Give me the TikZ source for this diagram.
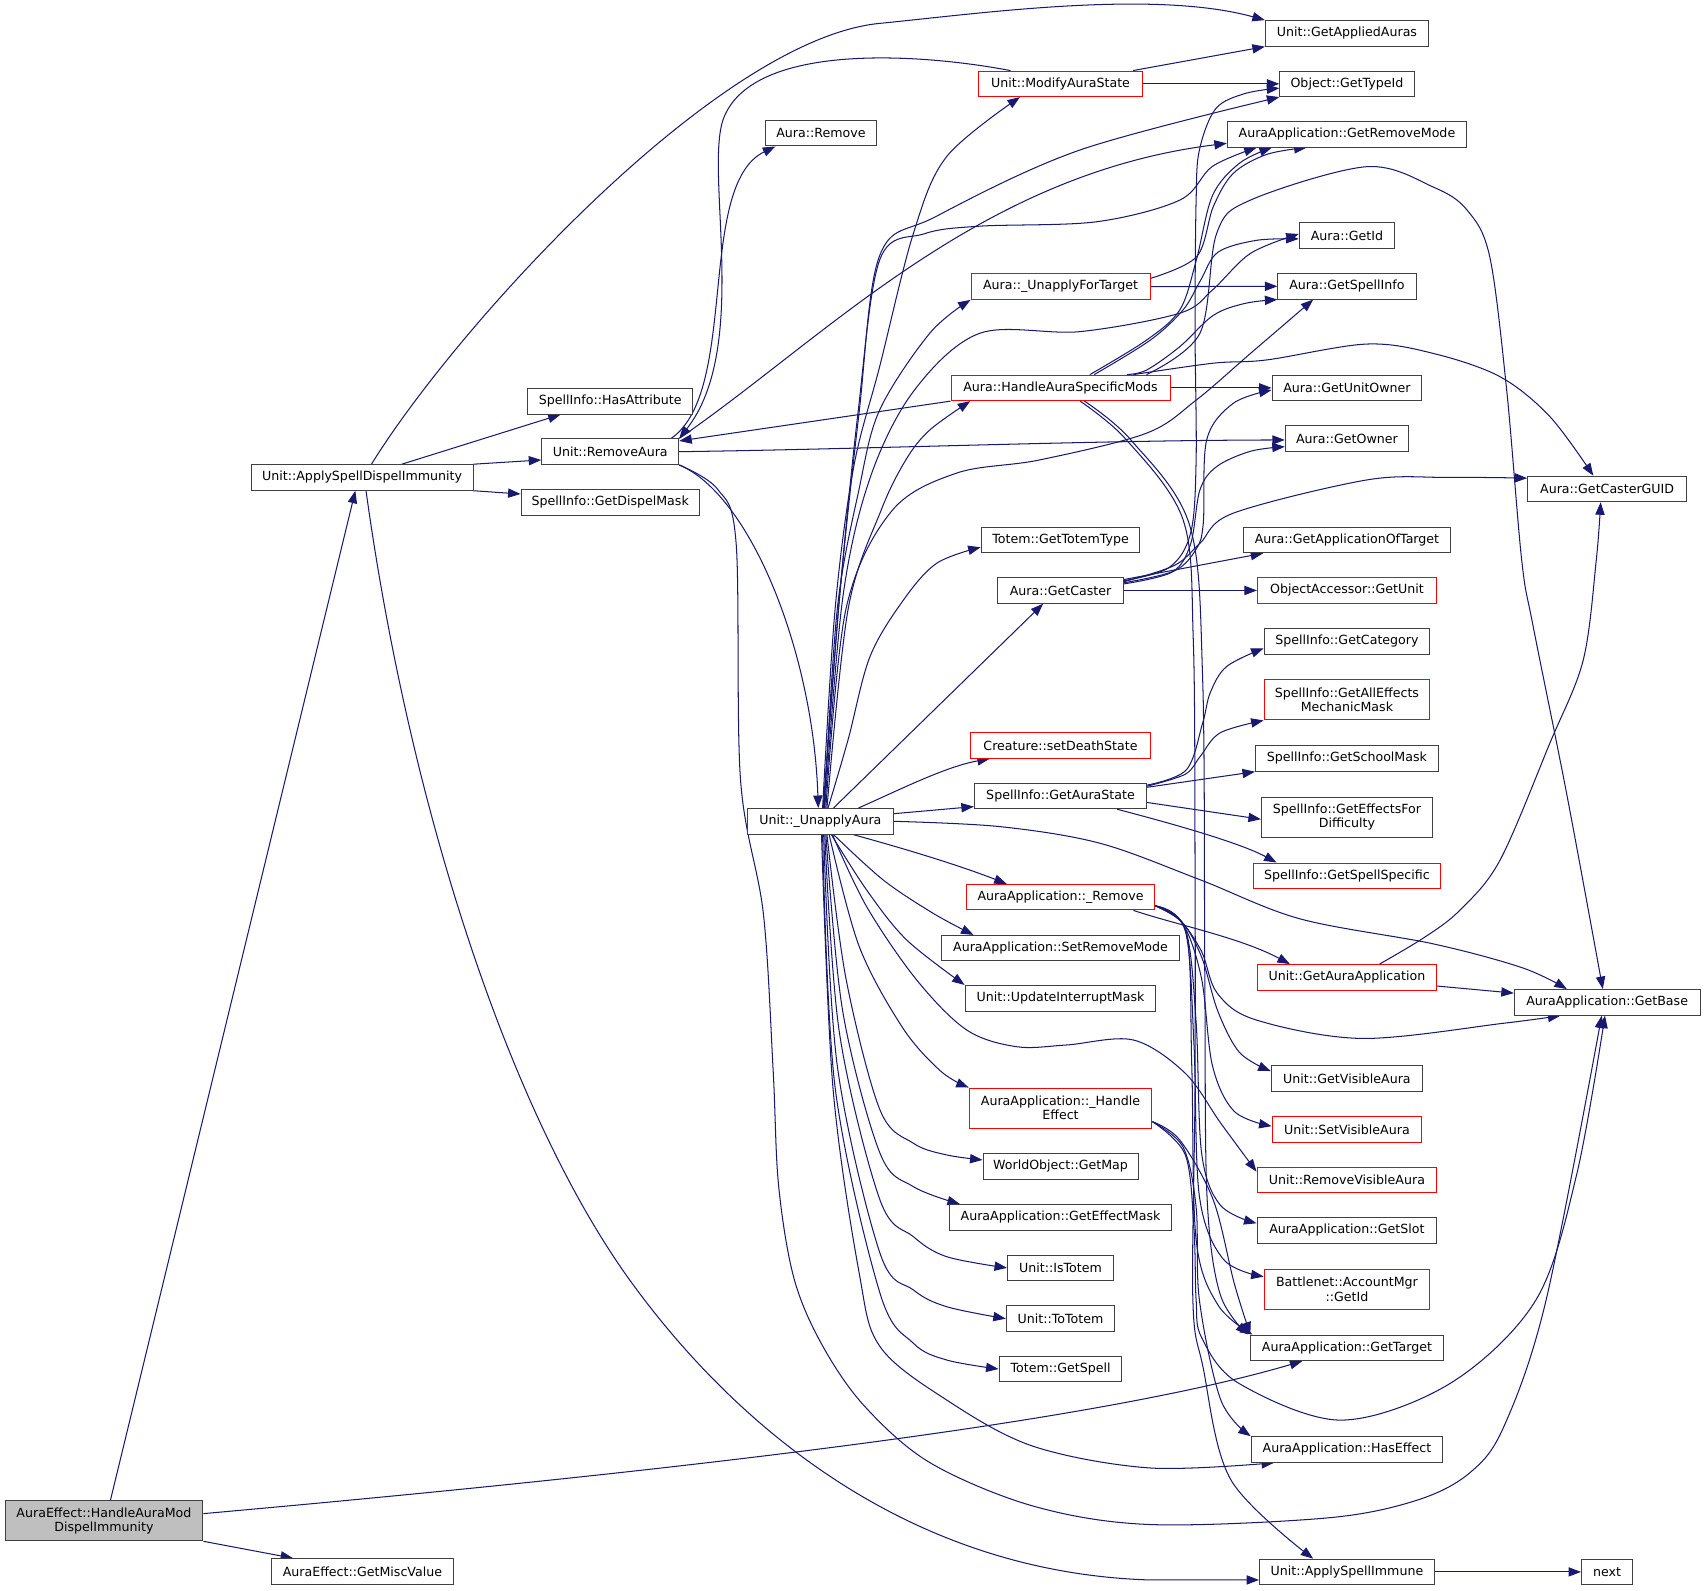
\documentclass[tikz,border=0pt]{standalone}
\usepackage{fontspec}
\setmainfont{DejaVu Sans}
\usetikzlibrary{arrows.meta,backgrounds}
\definecolor{edgec}{HTML}{191970}
\definecolor{nodegray}{HTML}{404040}
\definecolor{rootfill}{HTML}{BFBFBF}
\newcommand\nodefnt{\fontsize{11.6}{13.2}\selectfont}
\tikzset{
  nb/.style={draw=nodegray, line width=0.9pt, fill=white, minimum height=23.5pt, inner sep=0pt, font=\nodefnt, align=center},
  nr/.style={nb, draw=red},
  two/.style={minimum height=36.8pt},
  cl/.style={draw=edgec, line width=0.95pt, -{Triangle[length=11.5pt,width=8.5pt]}},
  sm/.style={smooth, tension=0.55},
}
\begin{document}
\begin{tikzpicture}[x=1pt,y=-1pt]
\useasboundingbox (0,0) rectangle (1568,1463);
% column 0 / 1 / 2
\node[nb, minimum width=182pt, minimum height=37pt, fill=rootfill] (hamd) at (95.6,1398.5) {AuraEffect::HandleAuraMod\\DispelImmunity};
\node[nb, minimum width=168pt] (gmv) at (333.3,1445.2) {AuraEffect::GetMiscValue};
\node[nb, minimum width=204pt] (asdi) at (333,439.1) {Unit::ApplySpellDispelImmunity};
\node[nb, minimum width=152pt] (hasattr) at (561.2,369) {SpellInfo::HasAttribute};
\node[nb, minimum width=126pt] (remaura) at (561.2,415.4) {Unit::RemoveAura};
\node[nb, minimum width=164pt] (dispel) at (561.2,462.1) {SpellInfo::GetDispelMask};
\node[nb, minimum width=134pt] (unapply) at (754.5,755.3) {Unit::\_UnapplyAura};
\node[nb, minimum width=102pt] (aremove) at (755,122.5) {Aura::Remove};
% column 4
\node[nr, minimum width=150pt] (modstate) at (975.3,77.1) {Unit::ModifyAuraState};
\node[nr, minimum width=164.6pt] (uft) at (975.3,263.6) {Aura::\_UnapplyForTarget};
\node[nr, minimum width=201.4pt] (hasm) at (975.3,356.7) {Aura::HandleAuraSpecificMods};
\node[nb, minimum width=146pt] (totemtype) at (975.3,496.6) {Totem::GetTotemType};
\node[nb, minimum width=115.5pt] (getcaster) at (975.3,543) {Aura::GetCaster};
\node[nr, minimum width=166pt] (deathstate) at (975.3,685.5) {Creature::setDeathState};
\node[nb, minimum width=158.5pt] (aurastate) at (975.3,732) {SpellInfo::GetAuraState};
\node[nr, minimum width=173pt] (rem) at (975.3,825) {AuraApplication::\_Remove};
\node[nb, minimum width=219.6pt] (setremove) at (975.3,872) {AuraApplication::SetRemoveMode};
\node[nb, minimum width=175.5pt] (updint) at (975.3,918) {Unit::UpdateInterruptMask};
\node[nr, two, minimum width=168pt] (handleeff) at (975.3,1019) {AuraApplication::\_Handle\\Effect};
\node[nb, minimum width=142.5pt] (getmap) at (975.3,1072.7) {WorldObject::GetMap};
\node[nb, minimum width=205pt] (effmask) at (975.3,1119.5) {AuraApplication::GetEffectMask};
\node[nb, minimum width=97.5pt] (istotem) at (975.3,1166) {Unit::IsTotem};
\node[nb, minimum width=99.7pt] (tototem) at (975.3,1212.7) {Unit::ToTotem};
\node[nb, minimum width=113pt] (getspell) at (975.3,1259) {Totem::GetSpell};
% column 5
\node[nb, minimum width=150pt] (appauras) at (1238.7,30.7) {Unit::GetAppliedAuras};
\node[nb, minimum width=123.4pt] (typeid) at (1238.7,77.1) {Object::GetTypeId};
\node[nb, minimum width=220pt] (remmode) at (1238.7,123.5) {AuraApplication::GetRemoveMode};
\node[nb, minimum width=87.7pt] (getid) at (1238.7,216.7) {Aura::GetId};
\node[nb, minimum width=127pt] (spellinfo) at (1238.7,263.3) {Aura::GetSpellInfo};
\node[nb, minimum width=137.7pt] (unitowner) at (1238.7,356.7) {Aura::GetUnitOwner};
\node[nb, minimum width=113.4pt] (owner) at (1238.7,403.2) {Aura::GetOwner};
\node[nb, minimum width=190.7pt] (appoftarget) at (1238.7,496.6) {Aura::GetApplicationOfTarget};
\node[nr, minimum width=164.6pt] (objunit) at (1238.7,543) {ObjectAccessor::GetUnit};
\node[nb, minimum width=152.4pt] (category) at (1238.7,589.8) {SpellInfo::GetCategory};
\node[nr, two, minimum width=152.4pt] (mechmask) at (1238.7,643.7) {SpellInfo::GetAllEffects\\MechanicMask};
\node[nb, minimum width=168.3pt] (schoolmask) at (1238.7,697.5) {SpellInfo::GetSchoolMask};
\node[nb, two, minimum width=157.3pt] (effdiff) at (1238.7,751.6) {SpellInfo::GetEffectsFor\\Difficulty};
\node[nr, minimum width=172pt] (spellspec) at (1238.7,805.4) {SpellInfo::GetSpellSpecific};
\node[nr, minimum width=164.6pt] (getauraapp) at (1238.7,898.8) {Unit::GetAuraApplication};
\node[nb, minimum width=139.3pt] (visaura) at (1238.7,992) {Unit::GetVisibleAura};
\node[nr, minimum width=137.7pt] (setvis) at (1238.7,1038.7) {Unit::SetVisibleAura};
\node[nr, minimum width=165.4pt] (remvis) at (1238.7,1085) {Unit::RemoveVisibleAura};
\node[nb, minimum width=165.4pt] (getslot) at (1238.7,1131.6) {AuraApplication::GetSlot};
\node[nr, two, minimum width=152.3pt] (bnetid) at (1238.7,1185.7) {Battlenet::AccountMgr\\::GetId};
\node[nb, minimum width=176.8pt] (gettarget) at (1238.7,1239.5) {AuraApplication::GetTarget};
\node[nb, minimum width=176.1pt] (haseffect) at (1238.7,1333) {AuraApplication::HasEffect};
\node[nb, minimum width=160.8pt] (applyimmune) at (1238.7,1445.6) {Unit::ApplySpellImmune};
% column 6
\node[nb, minimum width=146.2pt] (casterguid) at (1478,449.7) {Aura::GetCasterGUID};
\node[nb, minimum width=170.8pt] (getbase) at (1478,921.8) {AuraApplication::GetBase};
\node[nb, minimum width=47.2pt] (nxt) at (1478,1445.6) {next};

\begin{scope}[on background layer]
% root
\draw[cl] ([xshift=6pt]hamd.north) -- ([xshift=-6.2pt]asdi.south);
\draw[cl] (hamd.south east) -- ([xshift=-63.7pt]gmv.north);
\draw[cl] ([yshift=6.5pt]hamd.east) .. controls (600,1355) and (1000,1310) .. ([xshift=-41pt]gettarget.south);
% asdi
\draw[cl] ([xshift=8.6pt]asdi.north) .. controls (420,300) and (660,36) .. (809,21.5) .. controls (900,12.6) and (1060,-10) .. (appauras.north west);
\draw[cl] ([xshift=36.5pt]asdi.north) -- ([xshift=-45.6pt]hasattr.south);
\draw[cl] (asdi.north east) -- ([yshift=-7.6pt]remaura.west);
\draw[cl] (asdi.south east) -- ([yshift=7.8pt]dispel.west);
\draw[cl] ([xshift=3.6pt]asdi.south) .. controls (378,750) and (471,1027) .. (579,1177) .. controls (644,1267) and (800,1445) .. (1057.6,1453) -- ([yshift=-7.4pt]applyimmune.west);
% remaura
\draw[cl] ([xshift=56pt]remaura.north) .. controls (680,360) and (640,170) .. ([xshift=-42pt]aremove.south);
\draw[cl] ([xshift=-46pt]modstate.north) .. controls (840,48) and (690,40) .. (665,110) .. controls (648,160) and (690,320) .. (remaura.north east);
\draw[cl] (remaura.north east) .. controls (760,310) and (900,160) .. ([yshift=-8.3pt]remmode.west);
\draw[cl] (hasm.south west) -- ([yshift=9.9pt]remaura.east);
\draw[cl] (remaura.east) .. controls (800,413) and (1000,405) .. ([yshift=-1.4pt]owner.west);
\draw[cl] (remaura.south east) .. controls (690,455) and (748,600) .. ([xshift=-2pt]unapply.north);
\draw[cl] plot[sm] coordinates {(remaura.south east) (660,450) (677,500) (681,717) (702,840) (711,984) (716,1090) (730,1175) (755,1235) (794,1292) (855,1345) (950,1385) (1057,1402) (1220,1396) (1302,1380) (1351,1355) (1383,1312) (1422,1195) ([xshift=-5pt]getbase.south)};
% unapply top fan
\draw[cl] plot[sm] coordinates {([xshift=2pt]unapply.north) (768,560) (785,430) (809,337) (840,214.6) (870.6,144) ([xshift=-37.3pt]modstate.south)};
\draw[cl] plot[sm] coordinates {([xshift=3pt]unapply.north) (772,550) (790,380) (809,235) (861,199) (993,138) (typeid.south west)};
\draw[cl] plot[sm] coordinates {([xshift=2.5pt]unapply.north) (772,550) (789,380) (809,239) (850,215) (901,208) (1008,204) (1085,184) (1115,153) ([xshift=-83pt]remmode.south)};
\draw[cl] plot[sm] coordinates {([xshift=4pt]unapply.north) (775,550) (800,440) (840,360) (901,306.5) (993,305) (1085,288) (1115,266.7) (1150,233) ([yshift=1.5pt]getid.west)};
\draw[cl] plot[sm] coordinates {([xshift=5pt]unapply.north) (778,560) (820,470) (880,435) (956,423) (1054,398.5) (1100,368) (1150,325) ([xshift=-31pt]spellinfo.south)};
\draw[cl] plot[sm] coordinates {([xshift=3.5pt]unapply.north) (770,560) (790,450) (809,377) (855,306.5) (uft.south west)};
\draw[cl] plot[sm] coordinates {([xshift=6pt]unapply.north) (780,560) (810,470) (833,423) (855,395.5) ([xshift=-83pt]hasm.south)};
\draw[cl] plot[sm] coordinates {([xshift=7pt]unapply.north) (780,680) (800,604) (830.7,552) (861.4,518) ([yshift=-6.7pt]totemtype.west)};
\draw[cl] ([xshift=12pt]unapply.north) -- ([xshift=-16pt]getcaster.south);
\draw[cl] ([xshift=35pt]unapply.north) .. controls (830,725) and (870,705) .. ([xshift=-65pt]deathstate.south);
\draw[cl] ([yshift=7pt]unapply.east) -- ([yshift=-9.8pt]aurastate.west);
\draw[cl] plot[sm] coordinates {(unapply.east) (919.6,760.2) (1011.6,775.5) (1103.5,809) (1195.5,845) (1318,868) (1400,890) ([xshift=-37pt]getbase.north)};
% unapply bottom fan
\draw[cl] ([xshift=30pt]unapply.south) .. controls (830,780) and (880,795) .. ([xshift=-49.5pt]rem.north);
\draw[cl] plot[sm] coordinates {([xshift=12pt]unapply.south) (812.3,809.3) (858.3,840) ([xshift=-80pt]setremove.north)};
\draw[cl] plot[sm] coordinates {([xshift=10pt]unapply.south) (797,818.5) (833.8,864.4) (updint.north west)};
\draw[cl] plot[sm] coordinates {([xshift=11pt]unapply.south) (797,833.8) (843,901.2) (889,947.2) (935,962.6) (981,961) (1042.2,956.4) (1090,987) (1122.7,1033) ([yshift=7.5pt]remvis.west)};
\draw[cl] plot[sm] coordinates {([xshift=8pt]unapply.south) (790,870) (830,945) (865,985) (handleeff.north west)};
\draw[cl] plot[sm] coordinates {([xshift=6pt]unapply.south) (778,900) (809.3,1020.8) (840,1051.4) (870,1062) ([yshift=6pt]getmap.west)};
\draw[cl] plot[sm] coordinates {([xshift=5pt]unapply.south) (775,930) (809.3,1060.6) (840,1091.3) ([xshift=-92.5pt]effmask.north)};
\draw[cl] plot[sm] coordinates {([xshift=4pt]unapply.south) (772,950) (809.3,1103.6) (840,1137.3) (870.6,1155.7) (istotem.west)};
\draw[cl] plot[sm] coordinates {([xshift=3pt]unapply.south) (770,980) (809.3,1152.6) (840,1186.3) (870.6,1201.7) (tototem.west)};
\draw[cl] plot[sm] coordinates {([xshift=2pt]unapply.south) (768,1000) (809.3,1189.4) (840,1235.3) (870.6,1250.7) (getspell.west)};
\draw[cl] plot[sm] coordinates {([xshift=1pt]unapply.south) (766,1000) (790,1170) (809.3,1238.4) (870.6,1287.5) (950,1330) (1057.6,1350) ([xshift=-67pt]haseffect.south)};
% _Remove
\draw[cl] ([xshift=67pt]rem.south) .. controls (1080,850) and (1140,862) .. ([xshift=-52.4pt]getauraapp.north);
\draw[cl] plot[sm] coordinates {([yshift=-8pt]rem.east) (1085,846) (1105,875) (1119.5,913.5) (1155.2,938) (1253,955) (1383,941) ([xshift=-43pt]getbase.south)};
\draw[cl] plot[sm] coordinates {([yshift=-8pt]rem.east) (1087,848) (1105,880) (1120,930) (1140,968) ([yshift=7pt]visaura.west)};
\draw[cl] plot[sm] coordinates {([yshift=-8pt]rem.east) (1088,850) (1105,900) (1115,980) (1135,1022) ([yshift=3pt]setvis.west)};
\draw[cl] plot[sm] coordinates {([yshift=-8pt]rem.east) (1090,854) (1100,940) (1105,1060) (1122,1108) ([yshift=6.6pt]getslot.west)};
\draw[cl] plot[sm] coordinates {([yshift=-8pt]rem.east) (1090,856) (1098,960) (1103,1100) (1125,1158) ([yshift=11.7pt]bnetid.west)};
\draw[cl] plot[sm] coordinates {([yshift=-8pt]rem.east) (1091,858) (1096,980) (1100,1140) (1120,1200) ([xshift=2pt]gettarget.north west)};
% _HandleEffect
\draw[cl] plot[sm] coordinates {([yshift=-12.5pt]handleeff.east) (1085,1048.4) (1115.8,1103.6) (1135,1180) (gettarget.north west)};
\draw[cl] plot[sm] coordinates {([yshift=-12.5pt]handleeff.east) (1088,1055) (1100,1110) (1103,1195.5) (1122.7,1287.5) (haseffect.north west)};
\draw[cl] plot[sm] coordinates {([yshift=-12.5pt]handleeff.east) (1090,1062) (1098,1130) (1100,1195.5) (1105,1230) (1139,1272) (1233,1306) (1334,1272) (1412.5,1195.5) (1450,1080) ([xshift=-2pt]getbase.south)};
% HandleAuraSpecificMods
\draw[cl] (hasm.east) -- (unitowner.west);
\draw[cl] plot[sm] coordinates {([xshift=27pt]hasm.north) (1054.5,312.7) (1085,285) (1100,240) (1115,180) (1140,150) ([xshift=-69pt]remmode.south)};
\draw[cl] plot[sm] coordinates {([xshift=31pt]hasm.north) (1058,312.7) (1088,285) (1104,258) (1120,232) (1155.7,221) ([yshift=-3pt]getid.west)};
\draw[cl] plot[sm] coordinates {([xshift=61pt]hasm.north) (1054.5,340.3) (1085,318.8) (1115.8,290) (1145,279) (spellinfo.south west)};
\draw[cl] plot[sm] coordinates {([xshift=67pt]hasm.north) (1115.8,334) (1165,331) (1256.8,316.4) (1318,325) (1379.4,346.4) (1425.4,383.2) ([xshift=-12.7pt]casterguid.north)};
\draw[cl] plot[sm] coordinates {([xshift=79pt]hasm.north) (1103.5,306.5) (1118.9,214.6) (1150,184) (1256.8,153.3) (1318,172) (1349,193) (1370,236) (1385.6,358.7) (1399.4,515) (1410,576.3) (1440.7,729.6) ([xshift=-4pt]getbase.north)};
\draw[cl] plot[sm] coordinates {([xshift=18pt]hasm.south) (1036,404.6) (1088,478) (1097.4,588.6) (1099,790.9) (1099,1000) (1097,1195) (1106.3,1257) (1132,1361) ([xshift=-31pt]applyimmune.north)};
\draw[cl] plot[sm] coordinates {([xshift=22pt]hasm.south) (1040,404.6) (1094,483) (1106,624) (1108,900) (1110,1100) (1122,1190) ([xshift=-2pt]gettarget.north west)};
% GetCaster
\draw[cl] (getcaster.east) -- (objunit.west);
\draw[cl] ([yshift=10pt]getcaster.east) -- ([xshift=-77pt]appoftarget.south);
\draw[cl] plot[sm] coordinates {([yshift=8pt]getcaster.east) (1080,520) (1103.5,499.7) (1134,472) (1256.8,441.4) (1330,439) ([yshift=10pt]casterguid.west)};
\draw[cl] plot[sm] coordinates {([yshift=7pt]getcaster.east) (1080,525) (1100,505) (1106.6,481) (1109.7,404.6) (1134,371) ([yshift=-2pt]unitowner.west)};
\draw[cl] plot[sm] coordinates {([yshift=6pt]getcaster.east) (1078,526) (1095,500) (1103.5,450.6) (1119,429) (1150,415) ([yshift=-7.6pt]owner.west)};
\draw[cl] plot[sm] coordinates {([yshift=9pt]getcaster.east) (1075,522) (1095,490) (1100,423) (1099,300) (1100,184) (1103,138) (1118,100) (1145,86) ([yshift=-4pt]typeid.west)};
% GetAuraState
\draw[cl] plot[sm] coordinates {([yshift=10pt]aurastate.east) (1091,708) (1106,665) (1113,637) (1128,613) ([yshift=-6.4pt]category.west)};
\draw[cl] plot[sm] coordinates {([yshift=9pt]aurastate.east) (1090,712) (1103.5,696) (1122,674) (mechmask.south west)};
\draw[cl] ([yshift=8pt]aurastate.east) -- (schoolmask.south west);
\draw[cl] ([yshift=-6pt]aurastate.east) -- ([yshift=-1.8pt]effdiff.west);
\draw[cl] ([xshift=52pt]aurastate.south) .. controls (1080,758) and (1140,775) .. ([xshift=-64.7pt]spellspec.north);
% GetAuraApplication
\draw[cl] ([yshift=-8pt]getauraapp.east) -- ([yshift=8.5pt]getbase.west);
\draw[cl] plot[sm] coordinates {([xshift=30pt]getauraapp.north) (1310,862) (1342.6,837) (1379.5,791) (1425.5,683) (1456,607) (1468,515) ([xshift=-6pt]casterguid.south)};
% ModifyAuraState
\draw[cl] ([xshift=66.7pt]modstate.north) -- (appauras.south west);
\draw[cl] (modstate.east) -- (typeid.west);
% _UnapplyForTarget
\draw[cl] (uft.east) -- (spellinfo.west);
\draw[cl] plot[sm] coordinates {([yshift=7.6pt]uft.east) (1100.5,236) (1115.8,190) (1134.2,159.4) (1165,142) ([xshift=-37pt]remmode.south)};
% ApplySpellImmune
\draw[cl] (applyimmune.east) -- (nxt.west);
\end{scope}
\end{tikzpicture}
\end{document}
